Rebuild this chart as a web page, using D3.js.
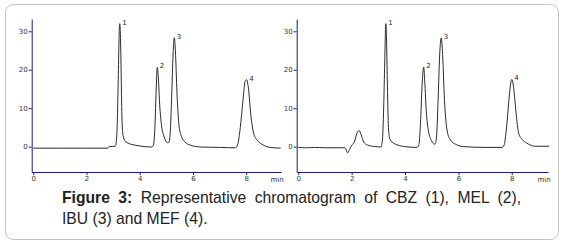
<!DOCTYPE html>
<html>
<head>
<meta charset="utf-8">
<script src="https://cdn.jsdelivr.net/npm/d3@7"></script>
<style>
  body { margin: 0; background: #fff; }
  svg { display: block; }
</style>
</head>
<body>
<div id="wrapper"></div>
<script>
// [time (min), signal]
const leftTrace = [
  [0, -0.4], [1.0, -0.4], [2.0, -0.4], [2.8, -0.4], [2.85, 0.0], [3.08, 0.1],
  [3.13, 2], [3.17, 10], [3.2, 20], [3.23, 30], [3.25, 32], [3.27, 30],
  [3.3, 20], [3.33, 8], [3.37, 3], [3.45, 1.5], [3.6, 0.8], [3.9, 0.3],
  [4.2, 0.0], [4.45, -0.1], [4.52, 0.5], [4.57, 5], [4.62, 15], [4.66, 20.6],
  [4.7, 18], [4.75, 11], [4.82, 5.5], [4.92, 2.5], [5.05, 1.0], [5.1, 1.2],
  [5.15, 4], [5.21, 15], [5.26, 25], [5.3, 28.3], [5.34, 25], [5.4, 14],
  [5.47, 6], [5.55, 3], [5.7, 1.2], [5.9, 0.4], [6.3, -0.1], [7.0, -0.2],
  [7.6, -0.3], [7.68, 0.5], [7.78, 5], [7.88, 12], [7.96, 17], [8.02, 17.4],
  [8.08, 15.5], [8.18, 8], [8.28, 3.5], [8.4, 1.8], [8.6, 0.6], [8.9, -0.2],
  [9.3, -0.4]
]

const rightTrace = [
  [0, -0.2], [0.3, -0.3], [0.6, -0.2], [1.0, -0.3], [1.5, -0.3], [1.75, -0.3],
  [1.85, -1.6], [1.92, -0.8], [2.0, 0.3], [2.1, 1.2], [2.2, 3.5], [2.28, 4.2],
  [2.35, 3.2], [2.45, 1.2], [2.6, 0.4], [2.9, 0.0], [3.1, -0.1], [3.15, 1.5],
  [3.2, 10], [3.24, 22], [3.28, 32], [3.31, 27], [3.34, 16], [3.38, 5],
  [3.43, 2], [3.6, 0.8], [4.0, 0.0], [4.45, -0.2], [4.52, 0.5], [4.58, 6],
  [4.64, 16], [4.7, 20.7], [4.74, 17], [4.8, 9], [4.88, 4], [5.0, 1.5],
  [5.12, 0.6], [5.18, 2.5], [5.24, 12], [5.3, 24], [5.36, 28.3], [5.41, 24],
  [5.48, 12], [5.56, 5], [5.68, 2], [5.9, 0.6], [6.2, 0.0], [7.0, -0.2],
  [7.65, -0.2], [7.72, 0.5], [7.82, 6], [7.92, 14], [8.0, 17.5], [8.06, 16],
  [8.16, 9], [8.26, 3.5], [8.4, 1.8], [8.55, 1.0], [8.7, 0.4], [8.85, 0.1],
  [9.4, 0.1]
]

// peak labels at the apex of each peak
const leftPeaks = [["1", 3.25, 32], ["2", 4.66, 20.6], ["3", 5.3, 28.3], ["4", 8.02, 17.4]]
const rightPeaks = [["1", 3.28, 32], ["2", 4.7, 20.7], ["3", 5.36, 28.3], ["4", 8.0, 17.5]]

const xTicks = [0, 2, 4, 6, 8]
const yTicks = [0, 10, 20, 30]
const yDomain = [-6.6, 33.2]

const captionBold = "Figure 3:"
const captionLine1 = " Representative chromatogram of CBZ (1), MEL (2),"
const captionLine2 = "IBU (3) and MEF (4)."

const width = 564
const height = 246

const svg = d3.select("#wrapper")
  .append("svg")
  .attr("width", width)
  .attr("height", height)

// frame
svg.append("rect")
  .attr("x", 5.5)
  .attr("y", 4.5)
  .attr("width", 553)
  .attr("height", 235)
  .attr("rx", 8)
  .attr("fill", "#fff")
  .attr("stroke", "#c4c4c4")

function drawPanel(trace, peaks, left, right, xDomain) {
  const xScale = d3.scaleLinear().domain(xDomain).range([left, right])
  const yScale = d3.scaleLinear().domain(yDomain).range([172, 19])

  const axisColor = "#1c1c7a"

  const xAxis = svg.append("g")
    .attr("transform", `translate(0, ${yScale(yDomain[0])})`)
    .call(d3.axisBottom(xScale).tickValues(xTicks).tickSize(3).tickSizeOuter(0).tickPadding(1))
  xAxis.select(".domain").attr("stroke", axisColor)
  xAxis.selectAll(".tick line").attr("stroke", axisColor)
  xAxis.selectAll(".tick text")
    .attr("fill", "#333")
    .style("font-family", "DejaVu Sans")
    .style("font-size", "7px")

  xAxis.append("text")
    .attr("x", right - 4)
    .attr("y", 10)
    .attr("fill", "#333")
    .attr("text-anchor", "middle")
    .style("font-family", "DejaVu Sans")
    .style("font-size", "7px")
    .text("min")

  const yAxis = svg.append("g")
    .attr("transform", `translate(${left}, 0)`)
    .call(d3.axisLeft(yScale).tickValues(yTicks).tickSize(3).tickSizeOuter(0).tickPadding(1))
  yAxis.select(".domain").attr("stroke", axisColor)
  yAxis.selectAll(".tick line").attr("stroke", axisColor)
  yAxis.selectAll(".tick text")
    .attr("fill", "#333")
    .style("font-family", "DejaVu Sans")
    .style("font-size", "7px")

  const lineGenerator = d3.line()
    .x(d => xScale(d[0]))
    .y(d => yScale(d[1]))
    .curve(d3.curveMonotoneX)

  svg.append("path")
    .attr("d", lineGenerator(trace))
    .attr("fill", "none")
    .attr("stroke", "#2a2a2a")
    .attr("stroke-width", 1)

  svg.append("g")
    .selectAll("text")
    .data(peaks)
    .join("text")
    .attr("x", d => xScale(d[1]) + 2.5)
    .attr("y", d => yScale(d[2]) + 1)
    .attr("fill", "#222")
    .style("font-family", "DejaVu Sans")
    .style("font-size", "7px")
    .text(d => d[0])
}

drawPanel(leftTrace, leftPeaks, 31.7, 281, [-0.06, 9.31])
drawPanel(rightTrace, rightPeaks, 296.7, 548, [-0.06, 9.36])

// caption (first line is justified)
const caption = svg.append("g")
  .style("font-family", "Liberation Sans, Arial, sans-serif")
  .style("font-size", "15.7px")
  .attr("fill", "#222")

const line1 = caption.append("text")
  .attr("x", 62)
  .attr("y", 203)
line1.append("tspan").style("font-weight", "bold").text(captionBold)
line1.append("tspan").text(captionLine1)

const naturalWidth = line1.node().getComputedTextLength()
const spaceCount = (captionBold + captionLine1).split(" ").length - 1
line1.style("word-spacing", `${Math.max(0, (459 - naturalWidth) / spaceCount)}px`)

caption.append("text")
  .attr("x", 62)
  .attr("y", 224)
  .text(captionLine2)
</script>
</body>
</html>
